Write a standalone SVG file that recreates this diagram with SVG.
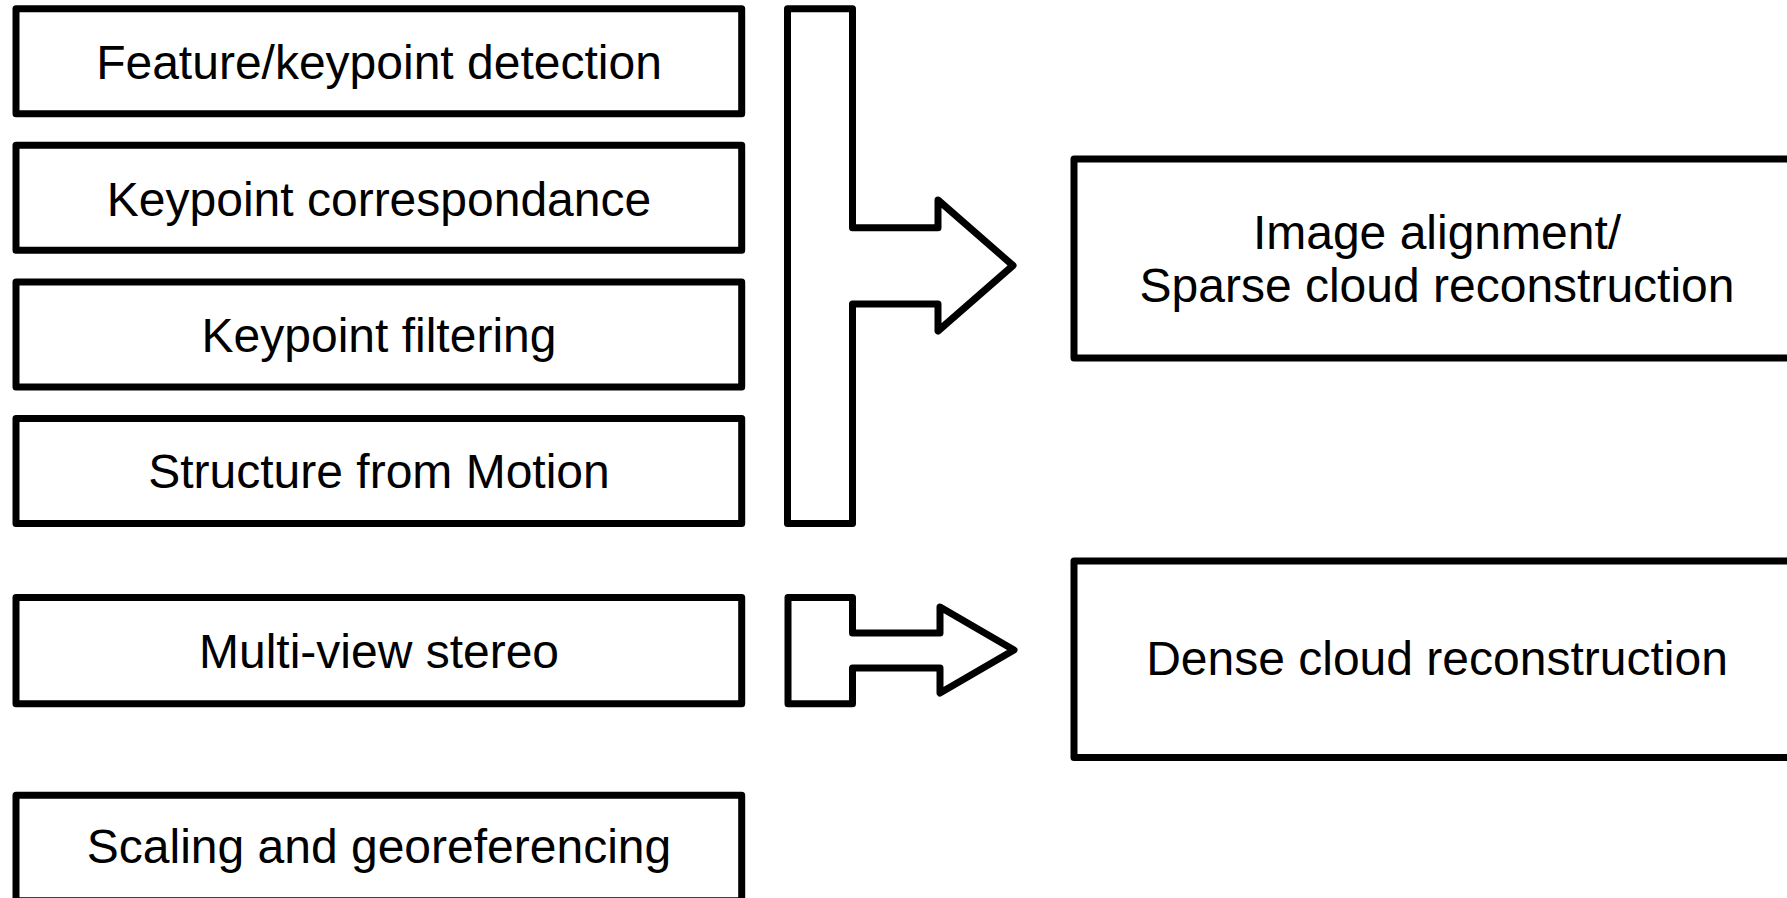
<svg xmlns="http://www.w3.org/2000/svg" width="1787" height="898" viewBox="0 0 1787 898">
<style>
.box{fill:#fff;stroke:#000;stroke-width:7;stroke-linejoin:round}
.arr{fill:#fff;stroke:#000;stroke-width:7;stroke-linejoin:round}
text{font-family:"Liberation Sans",Arial,sans-serif;font-size:48px;fill:#000;text-anchor:middle}
</style>
<rect width="1787" height="898" fill="#fff"/>
<g id="connectors">
<path class="arr" d="M787.5,8.7 H852.5 V227.7 H938 V200 L1013,265.5 L938,331 V304 H852.5 V523.6 H787.5 Z"/>
<path class="arr" d="M788,597.5 H852.5 V633 H940 V607 L1014,650 L940,693 V668 H852.5 V703.8 H788 Z"/>
</g>
<g id="n1"><rect class="box" x="16" y="8.7" width="725.7" height="105"/><text x="379" y="79">Feature/keypoint detection</text></g>
<g id="n2"><rect class="box" x="16" y="145.3" width="725.7" height="105"/><text x="379" y="216">Keypoint correspondance</text></g>
<g id="n3"><rect class="box" x="16" y="282" width="725.7" height="105"/><text x="379" y="352">Keypoint filtering</text></g>
<g id="n4"><rect class="box" x="16" y="418.6" width="725.7" height="105"/><text x="379" y="488">Structure from Motion</text></g>
<g id="n5"><rect class="box" x="16" y="597.5" width="725.7" height="106.3"/><text x="379" y="668">Multi-view stereo</text></g>
<g id="n6"><rect class="box" x="16" y="795.3" width="725.7" height="105.5"/><text x="379" y="863.3">Scaling and georeferencing</text></g>
<g id="n7"><rect class="box" x="1074" y="159" width="726" height="199"/><text x="1437" y="249.3">Image alignment/</text><text x="1437" y="301.7">Sparse cloud reconstruction</text></g>
<g id="n8"><rect class="box" x="1074" y="561" width="726" height="196.5"/><text x="1437" y="675">Dense cloud reconstruction</text></g>
</svg>
